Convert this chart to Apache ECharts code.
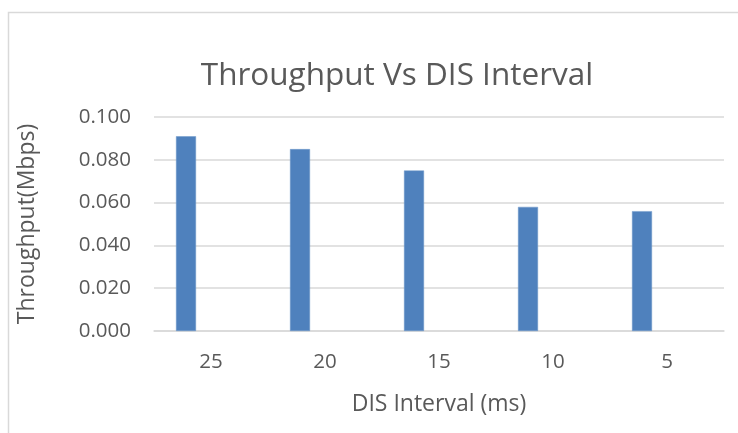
<!DOCTYPE html>
<html><head><meta charset="utf-8">
<script src="https://cdn.jsdelivr.net/npm/echarts@6/dist/echarts.min.js"></script>
<style>html,body{margin:0;padding:0;background:#fff}#c{width:738px;height:433px}</style>
</head><body><div id="c"></div>
<script>
const categories = ['25', '20', '15', '10', '5'];
const throughput = [0.091, 0.085, 0.075, 0.058, 0.056];
const emptySeries = [];
const yTicks = ['0.000', '0.020', '0.040', '0.060', '0.080', '0.100'];

const chart = echarts.init(document.getElementById('c'), null, {renderer: 'canvas'});
const txt = '#595959';
const font = 'Open Sans';
chart.setOption({
  animation: false,
  backgroundColor: '#fff',
  graphic: [{type: 'rect', shape: {x: 8.5, y: 12.5, width: 800, height: 500}, style: {fill: 'none', stroke: '#D9D9D9', lineWidth: 1.5}, silent: true}],
  title: {text: 'Throughput Vs DIS Interval', left: 392, top: 55, textAlign: 'center',
    textStyle: {color: txt, fontSize: 31.5, fontWeight: 'normal', fontFamily: font}},
  grid: {left: 154, right: 14, top: 117, bottom: 102},
  xAxis: {type: 'category', data: categories,
    name: 'DIS Interval (ms)', nameLocation: 'middle', nameGap: 62,
    nameTextStyle: {color: txt, fontSize: 23, fontFamily: font},
    axisLine: {lineStyle: {color: '#D9D9D9', width: 1.5}}, axisTick: {show: false},
    axisLabel: {color: txt, fontSize: 20.5, fontFamily: font, margin: 21}},
  yAxis: {type: 'value', min: 0, max: 0.1, interval: 0.02,
    name: 'Throughput(Mbps)', nameLocation: 'middle', nameGap: 115,
    nameTextStyle: {color: txt, fontSize: 23, fontFamily: font},
    axisLine: {show: false}, axisTick: {show: false},
    splitLine: {lineStyle: {color: '#D9D9D9', width: 1.5}},
    axisLabel: {color: txt, fontSize: 20.5, fontFamily: font, margin: 23,
      formatter: (v) => yTicks[Math.round(v / 0.02)]}},
  series: [
    {type: 'bar', name: 'Throughput', data: throughput, barWidth: 20, barGap: '150%',
     itemStyle: {color: '#4F81BD', borderColor: '#6F99CB', borderWidth: 0.5}},
    {type: 'bar', name: 'Series2', data: emptySeries, barWidth: 20}
  ]
});
</script></body></html>
